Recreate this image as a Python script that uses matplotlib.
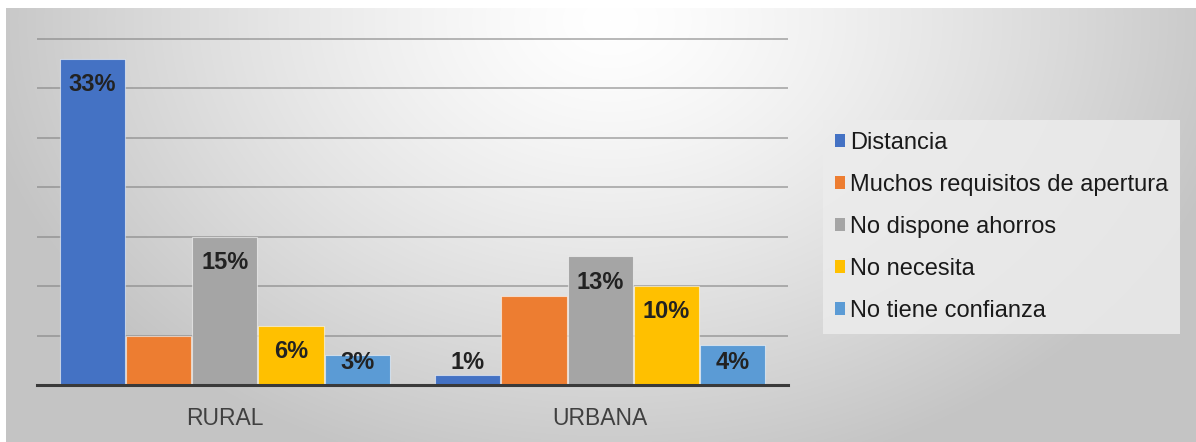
import numpy as np
import matplotlib
matplotlib.use("Agg")
import matplotlib.pyplot as plt
from matplotlib.patches import Patch

plt.rcParams['font.family'] = ['Liberation Sans', 'DejaVu Sans']

categories = ["RURAL", "URBANA"]
series_names = ["Distancia", "Muchos requisitos de apertura", "No dispone ahorros",
                "No necesita", "No tiene confianza"]
distancia = [33, 1]
requisitos = [5, 9]
ahorros = [15, 13]
necesita = [6, 10]
confianza = [3, 4]
values = [distancia, requisitos, ahorros, necesita, confianza]
show_label = [True, False, True, True, True]
colors = ["#4472C4", "#ED7D31", "#A5A5A5", "#FFC000", "#5B9BD5"]

W, H = 1196, 442
fig = plt.figure(figsize=(W / 100, H / 100), dpi=100)

# background radial gradient
bg = fig.add_axes([0, 0, 1, 1], zorder=-10)
yy, xx = np.mgrid[0:H, 0:W]
r = np.sqrt(((xx - 610) / 640.0) ** 2 + ((yy - 20) / 470.0) ** 2)
r = np.clip(r, 0, 1)
val = 1.0 - 0.23 * r ** 1.3
img = np.dstack([val, val, val])
img[0:8, :, :] = 1.0
img[:, 0:6, :] = 1.0
bg.imshow(img, extent=[0, W, H, 0], aspect='auto', interpolation='bilinear')
bg.set_xlim(0, W)
bg.set_ylim(H, 0)
bg.axis('off')

# main axes
ytop = 35.3
px_per_unit = (385 - 39) / 35.0
left = 37 / W
width = (788 - 37) / W
bottom = (H - 385) / H
height = px_per_unit * ytop / H
ax = fig.add_axes([left, bottom, width, height])
ax.patch.set_alpha(0)
ax.set_xlim(-0.5, 1.5)
ax.set_ylim(0, ytop)

x = np.arange(len(categories))
bw = 0.1765
n = len(series_names)
for i, (vals, col) in enumerate(zip(values, colors)):
    pos = x + (i - (n - 1) / 2) * bw
    ax.bar(pos, vals, width=bw * 0.985, color=col, edgecolor=(1, 1, 1, 0.55),
           linewidth=0.8, zorder=3)
    if show_label[i]:
        for p, v in zip(pos, vals):
            ty = max(v - 2.6, 2.3)
            ax.text(p, ty, f"{v}%", ha='center', va='center', fontsize=17,
                    fontweight='bold', color='#222222', zorder=5)

ax.set_yticks(np.arange(5, 36, 5))
ax.yaxis.grid(True, color='#808080', alpha=0.6, linewidth=1.3, zorder=0)
ax.set_axisbelow(True)
ax.tick_params(axis='y', left=False, labelleft=False)
ax.tick_params(axis='x', bottom=False, pad=12)
ax.set_xticks(x)
ax.set_xticklabels(categories, fontsize=16.5, color='#404040')
for s in ['top', 'right', 'left']:
    ax.spines[s].set_visible(False)
ax.spines['bottom'].set_color('#3a3a3a')
ax.spines['bottom'].set_linewidth(2.2)
ax.spines['bottom'].set_zorder(4)

handles = [Patch(facecolor=c, edgecolor='none') for c in colors]
leg = fig.legend(handles, series_names, loc='upper left',
                 bbox_to_anchor=(823 / W, 1 - 120 / H), bbox_transform=fig.transFigure,
                 fontsize=17, frameon=True, fancybox=False,
                 handlelength=0.45, handleheight=0.45, handletextpad=0.2,
                 labelspacing=0.85, borderpad=0.5, borderaxespad=0)
leg.get_frame().set_facecolor('#ececec')
leg.get_frame().set_edgecolor('none')
leg.get_frame().set_alpha(0.85)
for t in leg.get_texts():
    t.set_color('#1a1a1a')

fig.savefig("out.png", dpi=100)
